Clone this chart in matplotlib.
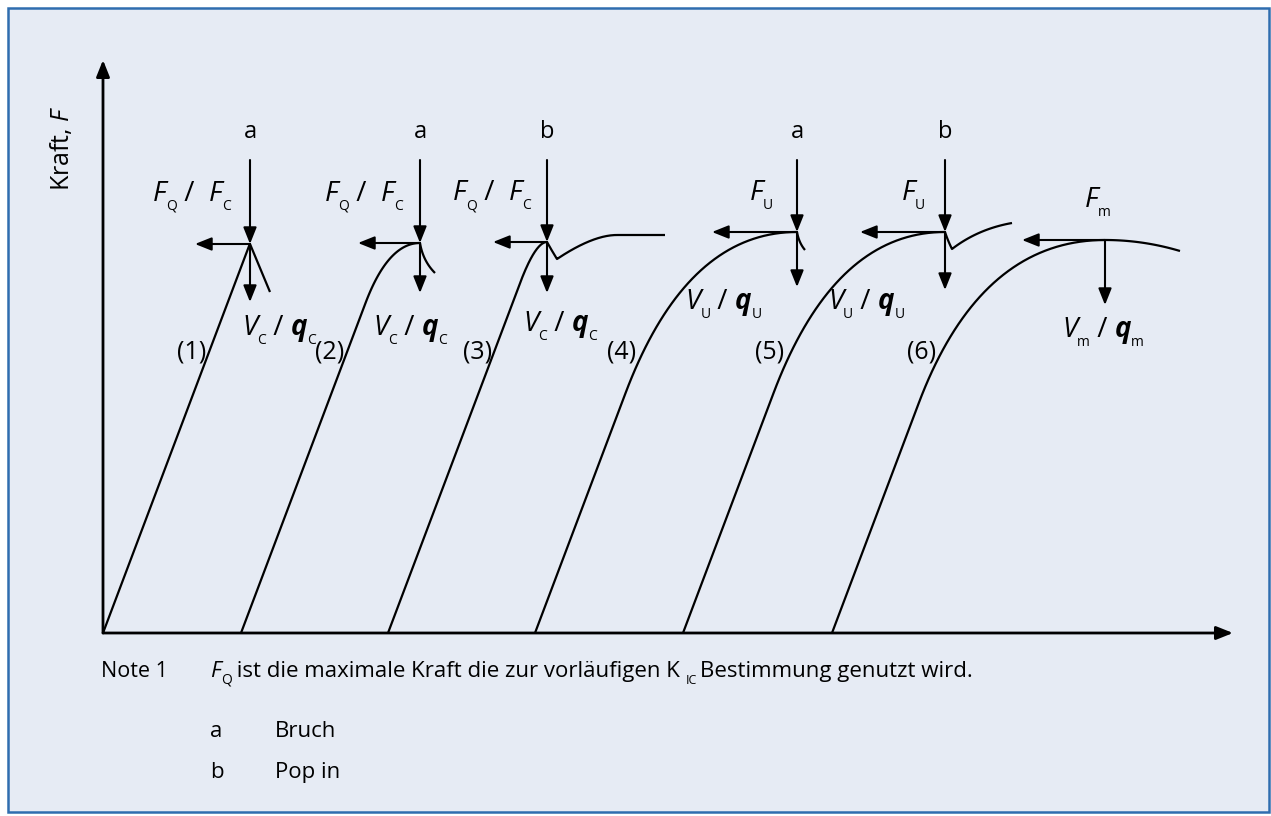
import matplotlib.pyplot as plt
from matplotlib.patches import FancyArrowPatch, Rectangle
import numpy as np

plt.rcParams['font.family'] = ['Open Sans', 'DejaVu Sans']
plt.rcParams['mathtext.fontset'] = 'custom'
plt.rcParams['mathtext.rm'] = 'Open Sans'
plt.rcParams['mathtext.it'] = 'Open Sans:italic'

# Kurven (Weg, Kraft), Ursprung = Achsenursprung
start_x = [0, 138, 285, 432, 580, 729]
steigung = 2.65
knie_F = [389, 330, 350, 240, 240, 230]
peak_x = [147, 317, 444, 694, 842, 1002]
peak_F = [389, 390, 391, 401, 401, 393]
# nach dem Maximum: Liste von (Kontrollpunkt, Endpunkt)
nach_peak = [
    [((157, 365), (167, 341))],
    [((320, 372), (332, 360))],
    [((449, 382), (454, 374)), ((490, 398), (514, 398)), ((538, 398), (562, 398))],
    [((696, 390), (702, 383))],
    [((845, 392), (849, 384)), ((875, 404), (909, 410))],
    [((1040, 393), (1077, 382))],
]

buchstabe = ['a', 'a', 'b', 'a', 'b', None]
pfeil_links = [55, 62, 54, 85, 85, 83]
pfeil_unten = [58, 50, 51, 55, 58, 65]
pfeil_oben_F = 473

# Beschriftungen: (Buchstabe, Index)
kraft_text = [[('F', 'Q'), (' /  ', None), ('F', 'C')]] * 3 + [[('F', 'U')]] * 2 + [[('F', 'm')]]
kraft_text_x = [50, 222, 350, 647, 799, 982]
kraft_text_F = [432, 432, 433, 433, 433, 426]
weg_text = ([[('V', 'C'), (' / ', None), ('q', 'C')]] * 3
            + [[('V', 'U'), (' / ', None), ('q', 'U')]] * 2
            + [[('V', 'm'), (' / ', None), ('q', 'm')]])
weg_text_x = [139, 270, 420, 582, 725, 959]
weg_text_F = [298, 298, 302, 324, 324, 296]
nummer = ['(1)', '(2)', '(3)', '(4)', '(5)', '(6)']
nummer_x = [89, 227, 375, 519, 667, 819]
nummer_F = 281

fig = plt.figure(figsize=(12.71, 8.16), dpi=100)
ax = fig.add_axes([0, 0, 1, 1])
ax.set_xlim(-103, 1168)
ax.set_ylim(-183, 633)
ax.axis('off')
renderer = fig.canvas.get_renderer()

# Hintergrund mit Rahmen
ax.add_patch(Rectangle((-95, -179), 1261, 804, facecolor='#e6ebf4', edgecolor='#2f6daf', lw=1.8))


def pfeil(x0, y0, x1, y1, lw=1.5):
    ax.add_patch(FancyArrowPatch((x0, y0), (x1, y1), arrowstyle='-|>,head_length=0.5,head_width=0.2',
                                 mutation_scale=20, color='black', lw=lw, shrinkA=0, shrinkB=0))


def bezier(p0, p1, p2, n=40):
    t = np.linspace(0, 1, n)[:, None]
    p0, p1, p2 = map(np.array, (p0, p1, p2))
    return (1 - t) ** 2 * p0 + 2 * (1 - t) * t * p1 + t ** 2 * p2


def zeile(x, y, teile):
    # teile: (text, stil, groesse, dy) nacheinander von links
    for s, stil, groesse, dy in teile:
        t = ax.text(x, y + dy, s, fontsize=groesse, ha='left', va='baseline',
                    style='italic' if 'i' in stil else 'normal',
                    weight='bold' if 'b' in stil else 'normal')
        x += t.get_window_extent(renderer).width


def formel(x, y, teile, gross=20, klein=10):
    out = []
    for buch, idx in teile:
        if idx is None:
            out.append((buch, 'n', gross, 0))
        else:
            out.append((buch, 'bi' if buch == 'q' else 'i', gross, 0))
            out.append((idx, 'n', klein, -9))
    zeile(x, y, out)


# Achsen
pfeil(0, 0, 0, 573, lw=2)
pfeil(0, 0, 1130, 0, lw=2)
ax.text(-41, 485, r'Kraft, $F$', rotation=90, ha='center', va='center', fontsize=18)

for i in range(6):
    kx = start_x[i] + knie_F[i] / steigung
    pts = [np.array([[start_x[i], 0], [kx, knie_F[i]]])]
    if knie_F[i] < peak_F[i]:
        cx = start_x[i] + peak_F[i] / steigung
        pts.append(bezier((kx, knie_F[i]), (cx, peak_F[i]), (peak_x[i], peak_F[i])))
    p = (peak_x[i], peak_F[i])
    for ctrl, end in nach_peak[i]:
        pts.append(bezier(p, ctrl, end))
        p = end
    xy = np.vstack(pts)
    ax.plot(xy[:, 0], xy[:, 1], color='black', lw=1.6, solid_capstyle='butt')

    # Pfeile am Maximum
    pfeil(peak_x[i], peak_F[i], peak_x[i] - pfeil_links[i], peak_F[i])
    pfeil(peak_x[i], peak_F[i], peak_x[i], peak_F[i] - pfeil_unten[i])
    if buchstabe[i]:
        pfeil(peak_x[i], pfeil_oben_F, peak_x[i], peak_F[i])
        ax.text(peak_x[i], 501, buchstabe[i], ha='center', va='center', fontsize=17)

    formel(kraft_text_x[i], kraft_text_F[i], kraft_text[i])
    formel(weg_text_x[i], weg_text_F[i], weg_text[i])
    ax.text(nummer_x[i], nummer_F, nummer[i], ha='center', va='center', fontsize=18)

# Anmerkungen
zeile(-2, -44, [('Note 1', 'n', 15.5, 0)])
zeile(107, -44, [('F', 'i', 16, 0), ('Q', 'n', 10, -7),
                 (' ist die maximale Kraft die zur vorläufigen K ', 'n', 16, 0),
                 ('IC', 'n', 9, -7), (' ', 'n', 7, 0), ('Bestimmung genutzt wird.', 'n', 16, 0)])
zeile(107, -104, [('a', 'n', 16, 0)])
zeile(172, -104, [('Bruch', 'n', 16, 0)])
zeile(107, -145, [('b', 'n', 16, 0)])
zeile(172, -145, [('Pop in', 'n', 16, 0)])

fig.savefig('out.png', dpi=100, facecolor='white')
